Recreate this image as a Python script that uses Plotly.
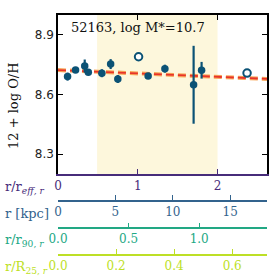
import plotly.graph_objects as go

# ---- data ----
r_reff = [0.12, 0.22, 0.335, 0.38, 0.55, 0.66, 0.75, 1.13, 1.34, 1.70, 1.80]
oh = [8.690, 8.723, 8.743, 8.712, 8.707, 8.753, 8.678, 8.693, 8.730, 8.649, 8.722]
oh_err = [0.02, 0.01, 0.033, 0.01, 0.02, 0.025, 0.02, 0.01, 0.02, 0.196, 0.042]
open_r = [1.01, 2.37]
open_oh = [8.790, 8.708]
fit_intercept = 8.723
fit_slope = -0.017
shade_range = [0.49, 2.0]
reff_kpc = 6.95       # kpc per r_eff
r90_reff = 1.77       # r90 in units of r_eff
r25_reff = 3.64       # R25 in units of r_eff
xmax = 2.62
title_text = "52163, log M*=10.7"

PURPLE = "#472c7a"
BLUE = "#33638d"
TEAL = "#22a884"
YGREEN = "#bddf26"
MK = "#0b5275"
SERIF = "DejaVu Serif"

fig = go.Figure()

fig.add_shape(type="rect", xref="x", yref="y domain", x0=shade_range[0], x1=shade_range[1],
              y0=0, y1=1, fillcolor="#fdf7dc", line_width=0, layer="below")

fx = [0, xmax]
fy = [fit_intercept + fit_slope * v for v in fx]
fig.add_trace(go.Scatter(x=fx, y=fy, mode="lines",
                         line=dict(color="#f7a85a", width=4, dash="8px,4px"), hoverinfo="skip"))
fig.add_trace(go.Scatter(x=fx, y=fy, mode="lines",
                         line=dict(color="#e8342a", width=1.8, dash="8px,4px"), hoverinfo="skip"))

fig.add_trace(go.Scatter(x=r_reff, y=oh, mode="markers",
                         marker=dict(color=MK, size=7.5),
                         error_y=dict(type="data", array=oh_err, color=MK, thickness=2.2, width=0)))
fig.add_trace(go.Scatter(x=open_r, y=open_oh, mode="markers",
                         marker=dict(color="white", size=7.5, line=dict(color=MK, width=2))))

common_tick = dict(ticks="inside", ticklen=5, tickwidth=1.2, showgrid=False, zeroline=False,
                   showline=True, linewidth=1.5, automargin=False)

fig.update_layout(
    template="none",
    width=277, height=277,
    margin=dict(l=58, r=10, t=15, b=22, autoexpand=False),
    plot_bgcolor="white", paper_bgcolor="white",
    showlegend=False,
    xaxis=dict(range=[0, xmax], anchor="y", tickvals=[0, 1, 2], ticktext=["0", "1", "2"],
               linecolor=PURPLE, tickcolor=PURPLE,
               tickfont=dict(family=SERIF, size=12, color=PURPLE), **common_tick),
    xaxis2=dict(range=[0, xmax * reff_kpc], overlaying="x", anchor="free", position=(255 - 200.7) / 240,
                tickvals=[0, 5, 10, 15], linecolor=BLUE, tickcolor=BLUE,
                tickfont=dict(family=SERIF, size=12, color=BLUE), **common_tick),
    xaxis3=dict(range=[0, xmax / r90_reff], overlaying="x", anchor="free", position=(255 - 228.3) / 240,
                tickvals=[0, 0.5, 1.0], ticktext=["0.0", "0.5", "1.0"], linecolor=TEAL, tickcolor=TEAL,
                tickfont=dict(family=SERIF, size=12, color=TEAL), **common_tick),
    xaxis4=dict(range=[0, xmax / r25_reff], overlaying="x", anchor="free", position=0,
                tickvals=[0, 0.2, 0.4, 0.6], ticktext=["0.0", "0.2", "0.4", "0.6"],
                linecolor=YGREEN, tickcolor=YGREEN,
                tickfont=dict(family=SERIF, size=12, color=YGREEN), **common_tick),
    xaxis5=dict(range=[0, xmax], overlaying="x", anchor="y", side="top", tickvals=[0, 1, 2],
                showticklabels=False, linecolor="black", tickcolor="black", **common_tick),
    yaxis=dict(range=[8.2, 9.0], domain=[(255 - 174) / 240, 1], tickvals=[8.3, 8.6, 8.9],
               ticktext=["8.3", "8.6", "8.9"], mirror="ticks", linecolor="black", tickcolor="black",
               tickfont=dict(family="DejaVu Sans", size=12, color="#222"), **common_tick),
)

# dummy traces to activate extra axes
for ax in ["x2", "x3", "x4", "x5"]:
    fig.add_trace(go.Scatter(x=[None], y=[None], xaxis=ax, yaxis="y", showlegend=False))

def px_x(p):
    return (p - 58) / 209.0

def px_y(p):
    return (255 - p) / 240.0

annots = [
    dict(text=title_text, x=px_x(69), y=px_y(27), xanchor="left", yanchor="middle",
         font=dict(family=SERIF, size=13, color="#111")),
    dict(text="12 + log O/H", x=px_x(13), y=px_y(106), xanchor="center", yanchor="middle",
         textangle=-90, font=dict(family=SERIF, size=13, color="#111")),
    dict(text="r/r<sub><i>eff, r</i></sub>", x=px_x(3), y=px_y(187), xanchor="left", yanchor="middle",
         font=dict(family=SERIF, size=13, color=PURPLE)),
    dict(text="r [kpc]", x=px_x(3), y=px_y(213), xanchor="left", yanchor="middle",
         font=dict(family=SERIF, size=13, color=BLUE)),
    dict(text="r/r<sub>90, <i>r</i></sub>", x=px_x(3), y=px_y(240), xanchor="left", yanchor="middle",
         font=dict(family=SERIF, size=13, color=TEAL)),
    dict(text="r/R<sub>25, <i>r</i></sub>", x=px_x(3), y=px_y(267), xanchor="left", yanchor="middle",
         font=dict(family=SERIF, size=13, color=YGREEN)),
]
for a in annots:
    fig.add_annotation(xref="paper", yref="paper", showarrow=False, **a)

fig.write_html("out.html", config={"displayModeBar": False},
               post_script="document.body.style.margin='0';document.body.style.overflow='hidden';")
